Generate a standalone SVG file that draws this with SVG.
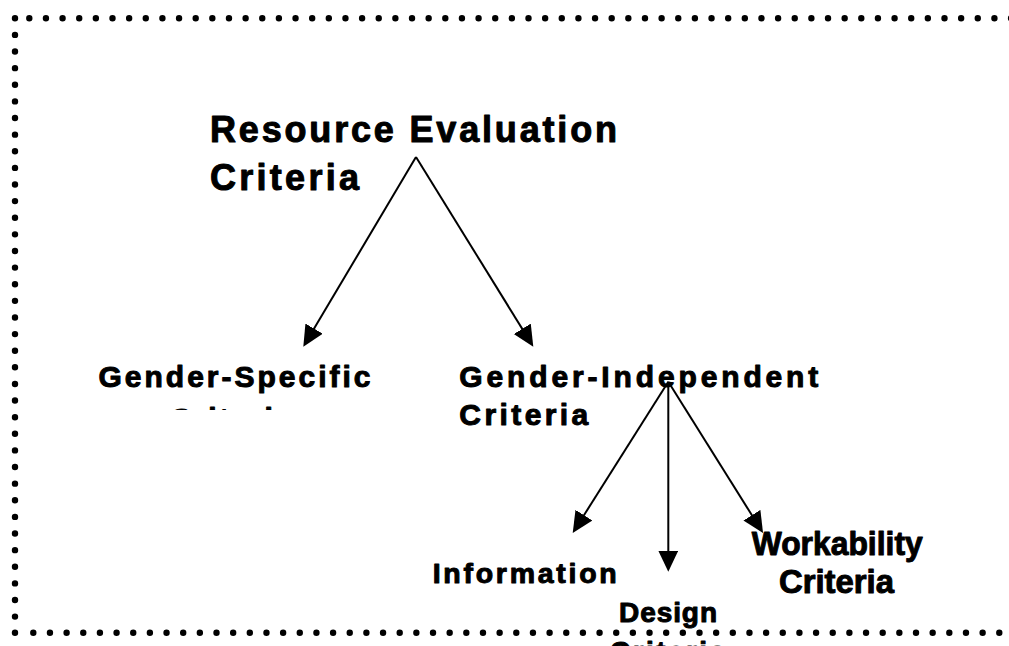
<svg xmlns="http://www.w3.org/2000/svg" width="1009" height="646" viewBox="0 0 1009 646">
  <style>
    .lbl { font-family: "Liberation Sans", Arial, sans-serif; font-weight: bold; fill: #000; stroke: #000; stroke-width: 1; stroke-linejoin: round; }
    .dots { fill: none; stroke: #000; stroke-width: 6.4; stroke-linecap: round; }
    .edge { fill: none; stroke: #000; stroke-width: 2; }
  </style>
  <defs>
    <marker id="head" markerUnits="userSpaceOnUse" markerWidth="22" markerHeight="22" refX="13" refY="10" orient="auto">
      <path d="M0,0 L21,10 L0,20 Z" fill="#000"/>
    </marker>
    <clipPath id="cut-gs">
      <rect x="0" y="380" width="1009" height="30"/>
    </clipPath>
  </defs>
  <rect width="1009" height="646" fill="#fff"/>

  <!-- dotted frame -->
  <g id="frame">
    <line class="dots" x1="29.3" y1="18.3" x2="1012" y2="18.3" stroke-dasharray="0 16.64"/>
    <line class="dots" x1="15" y1="18.3" x2="15" y2="620" stroke-dasharray="0 16.62"/>
    <line class="dots" x1="15" y1="632.7" x2="15" y2="632.7" stroke-dasharray="0 1"/>
    <line class="dots" x1="33.3" y1="632.7" x2="1012" y2="632.7" stroke-dasharray="0 16.655"/>
  </g>

  <!-- connectors -->
  <g id="connectors">
    <line class="edge" x1="416" y1="157" x2="307.4" y2="339.8" marker-end="url(#head)"/>
    <line class="edge" x1="416" y1="157" x2="529.1" y2="339.9" marker-end="url(#head)"/>
    <line class="edge" x1="668.3" y1="381.7" x2="577.0" y2="526.2" marker-end="url(#head)"/>
    <line class="edge" x1="668.3" y1="381.7" x2="668.3" y2="563.7" stroke-width="1.6" marker-end="url(#head)"/>
    <line class="edge" x1="668.3" y1="381.7" x2="758.8" y2="526.2" marker-end="url(#head)"/>
  </g>

  <!-- nodes -->
  <g id="node-root">
    <text class="lbl" x="210" y="142" font-size="36" textLength="407" lengthAdjust="spacing">Resource Evaluation</text>
    <text class="lbl" x="210" y="190" font-size="36" textLength="149" lengthAdjust="spacing">Criteria</text>
  </g>
  <g id="node-gender-specific">
    <text class="lbl" x="98.5" y="386.7" font-size="30" textLength="272" lengthAdjust="spacing">Gender-Specific</text>
    <text class="lbl" x="170" y="428.5" font-size="30" textLength="122" lengthAdjust="spacing" clip-path="url(#cut-gs)">Criteria</text>
  </g>
  <g id="node-gender-independent">
    <text class="lbl" x="459.3" y="386.7" font-size="30" textLength="359" lengthAdjust="spacing">Gender-Independent</text>
    <text class="lbl" x="459.3" y="425" font-size="30" textLength="129" lengthAdjust="spacing">Criteria</text>
  </g>
  <g id="node-information">
    <text class="lbl" x="432.7" y="583.3" font-size="28.5" textLength="184" lengthAdjust="spacing">Information</text>
  </g>
  <g id="node-design">
    <text class="lbl" x="619" y="621.7" font-size="28" textLength="98" lengthAdjust="spacing">Design</text>
    <text class="lbl" x="610" y="661" font-size="28" textLength="115" lengthAdjust="spacing">Criteria</text>
  </g>
  <g id="node-workability">
    <text class="lbl" x="751.7" y="555" font-size="33" textLength="171" lengthAdjust="spacingAndGlyphs">Workability</text>
    <text class="lbl" x="779" y="593.3" font-size="33" textLength="115" lengthAdjust="spacingAndGlyphs">Criteria</text>
  </g>
</svg>
